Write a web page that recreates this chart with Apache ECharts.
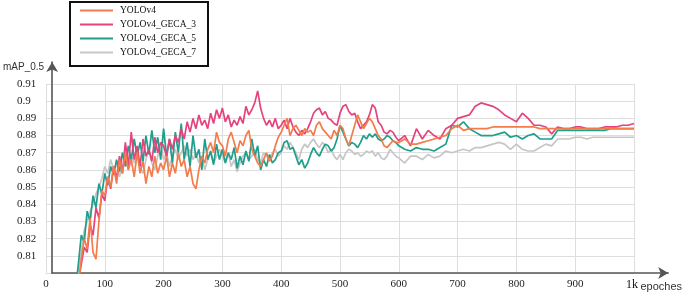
<!DOCTYPE html>
<html>
<head>
<meta charset="utf-8">
<script src="https://cdn.jsdelivr.net/npm/echarts@6/dist/echarts.min.js"></script>
<style>html,body{margin:0;padding:0;background:#fff;}#c{width:685px;height:294px;}</style>
</head>
<body>
<div id="c"></div>
<script>
// epochs: 50..600 step 5, then 610..1000 step 10
const epochs = [
 50,55,60,65,70,75,80,85,90,95,
 100,105,110,115,120,125,130,135,140,145,
 150,155,160,165,170,175,180,185,190,195,
 200,205,210,215,220,225,230,235,240,245,
 250,255,260,265,270,275,280,285,290,295,
 300,305,310,315,320,325,330,335,340,345,
 350,355,360,365,370,375,380,385,390,395,
 400,405,410,415,420,425,430,435,440,445,
 450,455,460,465,470,475,480,485,490,495,
 500,505,510,515,520,525,530,535,540,545,
 550,555,560,565,570,575,580,585,590,595,
 600,
 610,620,630,640,650,660,670,680,690,700,
 710,720,730,740,750,760,770,780,790,800,
 810,820,830,840,850,860,870,880,890,900,
 910,920,930,940,950,960,970,980,990,1000
];
const yolov4 = [
 0.780,0.792,0.808,0.820,0.814,0.832,0.812,0.808,0.830,0.848,
 0.845,0.856,0.850,0.862,0.852,0.866,0.858,0.870,0.860,0.866,
 0.856,0.870,0.858,0.865,0.852,0.862,0.856,0.868,0.858,0.864,
 0.860,0.868,0.856,0.864,0.858,0.870,0.862,0.866,0.856,0.862,
 0.852,0.849,0.860,0.868,0.864,0.872,0.876,0.870,0.882,0.876,
 0.874,0.868,0.878,0.882,0.876,0.870,0.877,0.874,0.880,0.883,
 0.872,0.868,0.864,0.862,0.866,0.870,0.865,0.868,0.874,0.879,
 0.882,0.886,0.890,0.880,0.884,0.886,0.883,0.880,0.884,0.882,
 0.883,0.880,0.886,0.888,0.884,0.882,0.880,0.878,0.883,0.880,
 0.886,0.884,0.878,0.874,0.880,0.886,0.892,0.888,0.884,0.887,
 0.890,0.888,0.884,0.880,0.878,0.874,0.873,0.875,0.877,0.876,
 0.876,
 0.878,0.875,0.875,0.876,0.877,0.878,0.879,0.880,0.884,0.886,
 0.883,0.884,0.884,0.884,0.884,0.885,0.885,0.885,0.885,0.885,
 0.885,0.885,0.885,0.884,0.884,0.884,0.884,0.884,0.884,0.884,
 0.884,0.884,0.884,0.884,0.884,0.884,0.884,0.884,0.884,0.884
];
const geca3 = [
 0.785,0.795,0.805,0.815,0.812,0.828,0.822,0.838,0.832,0.846,
 0.842,0.856,0.849,0.862,0.855,0.868,0.858,0.876,0.862,0.882,
 0.866,0.874,0.862,0.878,0.868,0.872,0.865,0.879,0.870,0.876,
 0.874,0.868,0.878,0.872,0.880,0.876,0.884,0.878,0.888,0.882,
 0.890,0.884,0.892,0.886,0.889,0.884,0.893,0.887,0.895,0.890,
 0.896,0.888,0.892,0.885,0.889,0.886,0.891,0.887,0.897,0.892,
 0.895,0.899,0.906,0.896,0.890,0.886,0.889,0.885,0.890,0.884,
 0.886,0.889,0.884,0.890,0.885,0.882,0.880,0.883,0.881,0.884,
 0.888,0.893,0.895,0.896,0.892,0.894,0.890,0.889,0.887,0.886,
 0.893,0.897,0.898,0.894,0.892,0.893,0.888,0.884,0.886,0.888,
 0.892,0.898,0.896,0.888,0.886,0.882,0.881,0.883,0.882,0.879,
 0.877,
 0.880,0.874,0.884,0.878,0.883,0.880,0.878,0.884,0.886,0.890,
 0.891,0.892,0.897,0.899,0.898,0.897,0.895,0.892,0.890,0.888,
 0.893,0.890,0.886,0.886,0.885,0.881,0.885,0.884,0.884,0.885,
 0.885,0.884,0.884,0.884,0.885,0.885,0.885,0.886,0.886,0.887
];
const geca5 = [
 0.790,0.805,0.822,0.818,0.836,0.830,0.845,0.838,0.852,0.846,
 0.858,0.851,0.862,0.857,0.866,0.859,0.870,0.862,0.874,0.866,
 0.878,0.868,0.876,0.865,0.880,0.869,0.883,0.870,0.879,0.866,
 0.884,0.868,0.878,0.864,0.882,0.870,0.887,0.866,0.876,0.862,
 0.880,0.867,0.872,0.860,0.878,0.866,0.871,0.863,0.875,0.866,
 0.872,0.864,0.870,0.866,0.873,0.861,0.868,0.863,0.871,0.865,
 0.878,0.868,0.874,0.860,0.866,0.862,0.869,0.864,0.866,0.870,
 0.871,0.876,0.877,0.872,0.873,0.868,0.863,0.866,0.861,0.864,
 0.869,0.873,0.870,0.868,0.872,0.875,0.874,0.871,0.873,0.878,
 0.886,0.882,0.878,0.874,0.876,0.875,0.873,0.876,0.880,0.878,
 0.881,0.879,0.881,0.878,0.877,0.878,0.880,0.879,0.877,0.876,
 0.874,
 0.872,0.871,0.873,0.872,0.872,0.871,0.873,0.875,0.886,0.885,
 0.888,0.884,0.882,0.880,0.880,0.880,0.881,0.882,0.879,0.880,
 0.878,0.880,0.881,0.878,0.878,0.878,0.883,0.883,0.883,0.883,
 0.883,0.883,0.883,0.883,0.883,0.884,0.884,0.884,0.884,0.884
];
const geca7 = [
 0.785,0.800,0.812,0.825,0.830,0.836,0.840,0.846,0.850,0.855,
 0.862,0.858,0.866,0.860,0.864,0.856,0.862,0.866,0.860,0.868,
 0.864,0.870,0.862,0.858,0.866,0.872,0.864,0.860,0.868,0.874,
 0.866,0.870,0.862,0.868,0.872,0.866,0.870,0.874,0.868,0.872,
 0.866,0.870,0.864,0.868,0.860,0.866,0.870,0.864,0.868,0.872,
 0.868,0.864,0.870,0.862,0.866,0.859,0.864,0.868,0.870,0.866,
 0.868,0.872,0.866,0.864,0.870,0.868,0.866,0.870,0.872,0.868,
 0.870,0.874,0.872,0.876,0.873,0.870,0.866,0.872,0.875,0.873,
 0.876,0.878,0.875,0.873,0.876,0.874,0.870,0.872,0.868,0.866,
 0.869,0.866,0.870,0.872,0.871,0.869,0.870,0.868,0.869,0.871,
 0.870,0.871,0.868,0.870,0.867,0.866,0.868,0.872,0.870,0.868,
 0.867,
 0.864,0.868,0.868,0.866,0.869,0.867,0.868,0.871,0.870,0.871,
 0.872,0.871,0.873,0.873,0.874,0.875,0.876,0.875,0.872,0.875,
 0.872,0.871,0.871,0.873,0.875,0.874,0.878,0.878,0.878,0.879,
 0.879,0.878,0.879,0.879,0.879,0.879,0.879,0.879,0.879,0.879
];
const seriesNames = ['YOLOv4','YOLOv4_GECA_3','YOLOv4_GECA_5','YOLOv4_GECA_7'];
const seriesColors = ['#F47B4B','#E6437E','#1E9E8B','#C6C6C6'];
const xTickLabels = ['0','100','200','300','400','500','600','700','800','900','1k'];

function pairs(vals){ return vals.map((v,i)=>[epochs[i], v]); }

const chart = echarts.init(document.getElementById('c'), null, {renderer:'canvas'});
const serifFont = '"Liberation Serif","Times New Roman",serif';
const sansFont = '"Liberation Sans",Arial,sans-serif';

const valuesByName = {
  'YOLOv4': yolov4, 'YOLOv4_GECA_3': geca3, 'YOLOv4_GECA_5': geca5, 'YOLOv4_GECA_7': geca7
};
// draw order: gray first, orange last (on top)
const drawOrder = [3,2,1,0];
const series = drawOrder.map(i => ({
  name: seriesNames[i],
  type: 'line',
  xAxisIndex: 0, yAxisIndex: 0,
  symbol: 'none', showSymbol: false,
  clip: true,
  color: seriesColors[i],
  lineStyle: { width: 1.7, color: seriesColors[i] },
  data: pairs(valuesByName[seriesNames[i]])
}));

chart.setOption({
  animation: false,
  backgroundColor: '#fff',
  legend: {
    data: seriesNames.map(n => ({ name: n, icon: 'rect' })),
    orient: 'vertical',
    left: 70, top: 2,
    padding: [3, 12, 8, 10],
    borderColor: '#111', borderWidth: 2,
    itemWidth: 33, itemHeight: 2, itemGap: 3,
    textStyle: { fontFamily: serifFont, fontSize: 9.5, lineHeight: 11, color: '#111', padding: [0,0,0,2] }
  },
  grid: [
    { left: 46, right: 51, top: 84, bottom: 21, containLabel: false },
    { left: 46, right: 15, top: 62, bottom: 21, containLabel: false }
  ],
  xAxis: [
    {
      type: 'value', gridIndex: 0, min: 0, max: 1000, interval: 100,
      axisLine: { show: false }, axisTick: { show: false },
      splitLine: { show: true, lineStyle: { color: '#dedede', width: 1 } },
      axisLabel: {
        margin: 6, fontFamily: serifFont, fontSize: 11, color: '#222',
        formatter: v => {
          const t = xTickLabels[Math.round(v/100)];
          return v === 1000 ? '{k|' + t + '}' : t;
        },
        rich: { k: { fontFamily: serifFont, fontSize: 12, color: '#111', padding: [0,4,0,0] } }
      }
    },
    {
      type: 'value', gridIndex: 1, min: 0, max: 1,
      axisLine: { show: true, onZero: false, symbol: ['none','arrow'], symbolSize: [9, 10],
        lineStyle: { color: '#555', width: 1.6 } },
      axisTick: { show: false }, axisLabel: { show: false }, splitLine: { show: false },
      name: 'epoches', nameLocation: 'end', nameGap: -7,
      nameTextStyle: { fontFamily: sansFont, fontSize: 11, color: '#333', align: 'center', verticalAlign: 'top', padding: [8,0,0,0] }
    }
  ],
  yAxis: [
    {
      type: 'value', gridIndex: 0, min: 0.80, max: 0.91, interval: 0.01,
      axisLine: { show: false }, axisTick: { show: false },
      splitLine: { show: true, lineStyle: { color: '#dedede', width: 1 } },
      axisLabel: {
        showMinLabel: false, margin: 29, align: 'left',
        fontFamily: serifFont, fontSize: 11, color: '#222',
        formatter: v => String(Math.round(v*100)/100)
      }
    },
    {
      type: 'value', gridIndex: 1, min: 0, max: 1,
      axisLine: { show: true, onZero: false, symbol: ['none','arrow'], symbolSize: [9, 10],
        lineStyle: { color: '#555', width: 1.6 } },
      axisTick: { show: false }, axisLabel: { show: false }, splitLine: { show: false },
      name: 'mAP_0.5', nameLocation: 'end', nameGap: -5,
      nameTextStyle: { fontFamily: sansFont, fontSize: 10, color: '#333', align: 'right', verticalAlign: 'middle', padding: [0,8,0,0] }
    }
  ],
  series: series
});
</script>
</body>
</html>
